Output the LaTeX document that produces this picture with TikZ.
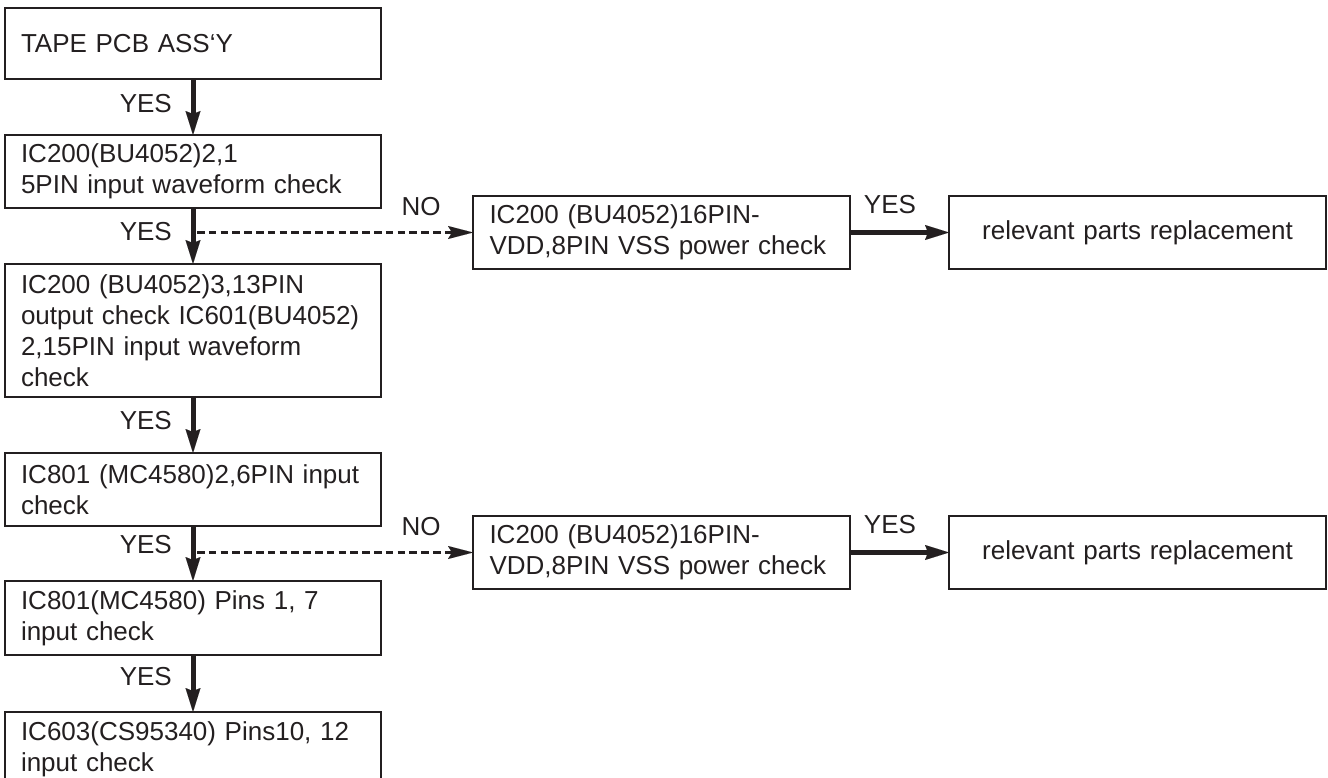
\documentclass[tikz,border=0pt]{standalone}
\usepackage{fontspec}
\setmainfont{Liberation Sans}
\usetikzlibrary{arrows.meta}
\definecolor{ink}{RGB}{35,31,32}
\begin{document}
\begin{tikzpicture}[x=1pt,y=-1pt,
  box/.style={draw=ink, line width=2.5pt, rectangle, anchor=north west, outer sep=0pt,
    minimum width=376pt, inner xsep=16pt, inner ysep=0pt, text width=344pt, align=left,
    font=\fontsize{26}{31}\selectfont, text=ink},
  cbox/.style={box, align=center},
  lbl/.style={inner sep=0pt, font=\fontsize{26}{31}\selectfont, text=ink},
  yesarrow/.style={draw=ink, line width=5pt,
    -{Stealth[length=24pt,width=15pt,inset=3pt,line width=0.01pt]}},
  noarrow/.style={draw=ink, line width=2.2pt, dash pattern=on 7.5pt off 4.3pt,
    -{Stealth[length=25pt,width=13pt,inset=4pt,line width=0.01pt]}}
]
\clip (0,0) rectangle (1328,778);
% left column
\node[box, minimum height=71pt] (b1) at (5,8) {TAPE PCB ASS`Y};
\node[box, minimum height=73pt] (b2) at (5,135) {IC200(BU4052)2,1\\5PIN input waveform check};
\node[box, minimum height=133pt] (b3) at (5,264) {IC200 (BU4052)3,13PIN\\output check IC601(BU4052)\\2,15PIN input waveform\\check};
\node[box, minimum height=73pt] (b4) at (5,453) {IC801 (MC4580)2,6PIN input\\check};
\node[box, minimum height=74pt] (b5) at (5,581) {IC801(MC4580) Pins 1, 7\\input check};
\node[box, minimum height=74pt] (b6) at (5,712) {IC603(CS95340) Pins10, 12\\input check};
% right rows
\node[box, minimum width=377pt, minimum height=73pt] (r1) at (473,196) {IC200 (BU4052)16PIN-\\VDD,8PIN VSS power check};
\node[cbox, minimum width=377pt, minimum height=73pt] (r2) at (949,196) {relevant parts replacement};
\node[box, minimum width=377pt, minimum height=73pt] (r3) at (473,516) {IC200 (BU4052)16PIN-\\VDD,8PIN VSS power check};
\node[cbox, minimum width=377pt, minimum height=73pt] (r4) at (949,516) {relevant parts replacement};
% labels
\node[lbl, anchor=east] (y1) at (172,104) {YES};
\node[lbl, anchor=east] (y2) at (172,232) {YES};
\node[lbl, anchor=east] (y3) at (172,421) {YES};
\node[lbl, anchor=east] (y4) at (172,545) {YES};
\node[lbl, anchor=east] (y5) at (172,677) {YES};
\node[lbl] (n1) at (421,207) {NO};
\node[lbl] (n2) at (421,527) {NO};
\node[lbl] (y6) at (890,205) {YES};
\node[lbl] (y7) at (890,525) {YES};
% vertical arrows
\draw[yesarrow] (b1.south) -- (b2.north);
\draw[yesarrow] (b2.south) -- (b3.north);
\draw[yesarrow] (b3.south) -- (b4.north);
\draw[yesarrow] (b4.south) -- (b5.north);
\draw[yesarrow] (b5.south) -- (b6.north);
% NO branches
\coordinate (d1) at (b2.south |- r1.west);
\coordinate (d2) at (b4.south |- r3.west);
\draw[noarrow, shorten <=4pt] (d1) -- (r1.west);
\draw[noarrow, shorten <=4pt] (d2) -- (r3.west);
% YES to replacement
\draw[yesarrow] (r1.east) -- (r2.west);
\draw[yesarrow] (r3.east) -- (r4.west);
\end{tikzpicture}
\end{document}
